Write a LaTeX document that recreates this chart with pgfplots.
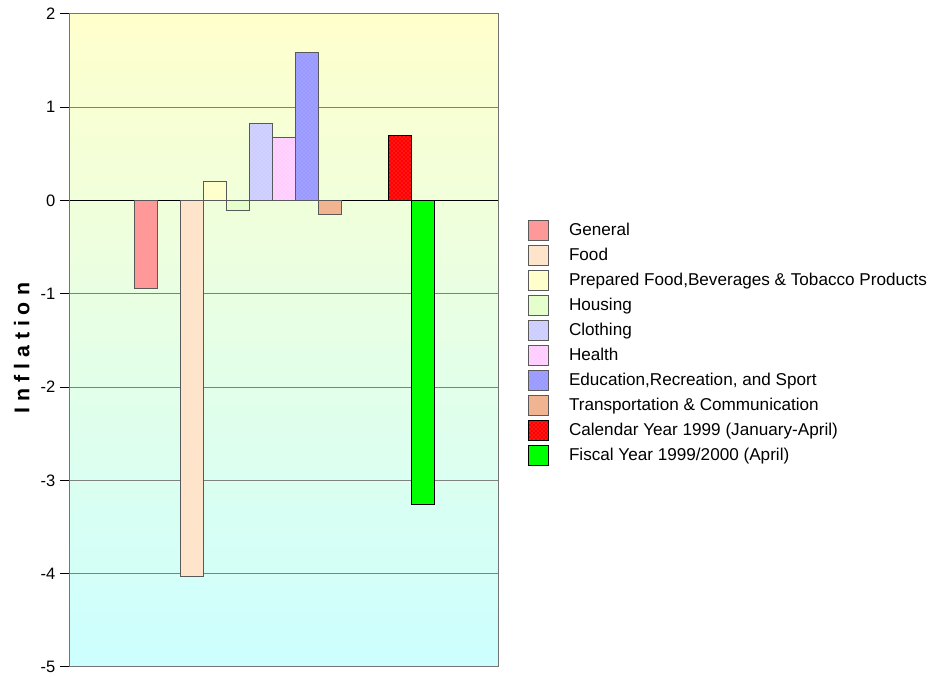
\documentclass[border=0pt]{standalone}
\usepackage{fontspec}
\setmainfont{Liberation Sans}
\usepackage{pgfplots}
\pgfplotsset{compat=1.18}
\usetikzlibrary{patterns}
\definecolor{cGen}{HTML}{FF9999}
\definecolor{cFood}{HTML}{FFE4CC}
\definecolor{cPrep}{HTML}{FFFFCC}
\definecolor{cHous}{HTML}{E5FFCC}
\definecolor{cCloth}{HTML}{CCCCFF}
\definecolor{cHealth}{HTML}{FFCCFF}
\definecolor{cEdu}{HTML}{9999FF}
\definecolor{cTrans}{HTML}{F0B490}
\definecolor{cCal}{HTML}{FF0000}
\definecolor{cFis}{HTML}{00FF00}
\definecolor{bgTop}{HTML}{FFFFCC}
\definecolor{bgBot}{HTML}{CCFFFF}
\begin{document}
\begin{tikzpicture}
\begin{axis}[
  scale only axis, width=321pt, height=489.75pt,
  xmin=70, xmax=498, ymin=-5, ymax=2,
  ytick={-5,-4,-3,-2,-1,0,1,2},
  yticklabels={-5,-4,-3,-2,-1,0,1,2},
  xtick=\empty,
  ymajorgrids, grid style={black!50, line width=0.75pt},
  tick align=outside, ytick pos=left, major tick length=7.5pt,
  tick style={black, line width=0.75pt},
  axis line style={black!55, line width=0.75pt},
  axis background/.style={top color=bgTop, bottom color=bgBot},
  ticklabel style={font=\fontsize{12.4}{14}\selectfont},
  ylabel={\fontsize{16}{18}\selectfont\bfseries\addfontfeature{LetterSpace=28}Inflation},
  ylabel style={at={(axis description cs:-0.1125,0.488)}, anchor=center},
  legend style={at={(1.0701,0.6845)}, anchor=north west, draw=none, fill=none,
    inner sep=0pt, outer sep=0pt, row sep=3pt,
    nodes={inner sep=0pt, anchor=west},
    font=\fontsize{12.85}{15}\selectfont},
  legend cell align=left,
  leg/.style={legend image code/.code={\draw[##1] (0pt,-7.5pt) rectangle (15pt,7.5pt); \path (30pt,0pt);}},
  mybar/.style={ybar, bar width=23, bar shift=0pt, draw=black!65, line width=0.75pt},
]
\coordinate (bbl) at (rel axis cs:-0.16355,-0.01531);
\coordinate (btr) at (rel axis cs:2.00467,1.02144);
\draw[black, line width=0.75pt] (axis cs:70,0) -- (axis cs:498,0);
\addplot[mybar, fill=cGen, leg] coordinates {(146,-0.94)};
\addlegendentry{General}
\addplot[mybar, fill=cFood, leg] coordinates {(192,-4.03)};
\addlegendentry{Food}
\addplot[mybar, fill=cPrep, leg] coordinates {(215.5,0.20)};
\addlegendentry{Prepared Food,Beverages \& Tobacco Products}
\addplot[mybar, fill=cHous, leg] coordinates {(238.5,-0.11)};
\addlegendentry{Housing}
\addplot[mybar, fill=cCloth, postaction={pattern=crosshatch dots, pattern color=white!50!cCloth}, leg] coordinates {(261.5,0.83)};
\addlegendentry{Clothing}
\addplot[mybar, fill=cHealth, postaction={pattern=crosshatch dots, pattern color=white!50!cHealth}, leg] coordinates {(284.5,0.68)};
\addlegendentry{Health}
\addplot[mybar, fill=cEdu, postaction={pattern=crosshatch dots, pattern color=white!30!cEdu}, leg] coordinates {(307.5,1.59)};
\addlegendentry{Education,Recreation, and Sport}
\addplot[mybar, fill=cTrans, leg] coordinates {(330.5,-0.15)};
\addlegendentry{Transportation \& Communication}
\addplot[mybar, fill=cCal, draw=black, postaction={pattern=crosshatch dots, pattern color=white!40!cCal}, leg] coordinates {(399.5,0.70)};
\addlegendentry{Calendar Year 1999 (January-April)}
\addplot[mybar, fill=cFis, draw=black, leg] coordinates {(422.5,-3.26)};
\addlegendentry{Fiscal Year 1999/2000 (April)}
\end{axis}
\pgfresetboundingbox
\path (bbl) rectangle (btr);
\end{tikzpicture}
\end{document}
